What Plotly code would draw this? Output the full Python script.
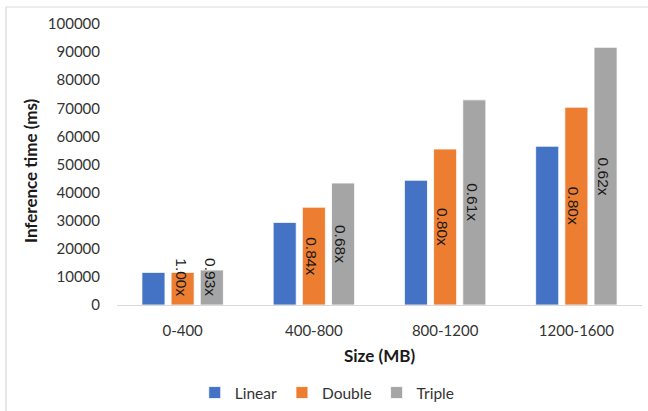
import plotly.graph_objects as go

# Inference time per model-size bucket (ms)
sizes = ["0-400", "400-800", "800-1200", "1200-1600"]
linear = [11600, 29400, 44400, 56500]
double = [11600, 34800, 55500, 70400]
triple = [12450, 43400, 73000, 91700]

# Speed-up ratios relative to Linear, printed on the Double and Triple bars
double_ratio = ["1.00x", "0.84x", "0.80x", "0.80x"]
triple_ratio = ["0.93x", "0.68x", "0.61x", "0.62x"]

y_ticks = list(range(0, 100001, 10000))

colors = {"Linear": "#4472C4", "Double": "#ED7D31", "Triple": "#A5A5A5"}

fig = go.Figure()
for name, vals in (("Linear", linear), ("Double", double), ("Triple", triple)):
    fig.add_trace(go.Bar(
        x=sizes, y=vals, name=name,
        marker=dict(color=colors[name], line=dict(color="white", width=0.8)),
    ))

# Layout geometry (pixels)
W, H = 648, 411
ML, MR, MT, MB = 117, 6, 24, 106
plot_w = W - ML - MR
ph = H - MT - MB
cat_w = plot_w / len(sizes)
bargap, bargroupgap = 0.333, 0.21
slot = cat_w * (1 - bargap) / 3

label_font = dict(family="Liberation Sans, Arial, sans-serif", size=15.5, color="#1a1a1a")
annotations = []
for offset, vals, labels in ((0, double, double_ratio), (1, triple, triple_ratio)):
    for cat, v, lab in zip(sizes, vals, labels):
        annotations.append(dict(
            x=cat, y=max(v / 2, 10000), xref="x", yref="y",
            text=lab, showarrow=False, textangle=90,
            xshift=offset * slot - 2, font=label_font,
        ))

tick_font = dict(family="Lato, Open Sans, sans-serif", size=15, color="#333333")
title_font = dict(family="Lato, Open Sans, sans-serif", size=17, color="#1a1a1a")

annotations.append(dict(
    x=(30 - ML) / plot_w, y=(305 - 171) / ph, xref="paper", yref="paper",
    xanchor="center", yanchor="middle",
    text="<b>Inference time (ms)</b>", textangle=-90, showarrow=False,
    font=title_font,
))
annotations.append(dict(
    x=0.5, y=(305 - 355) / ph, xref="paper", yref="paper",
    xanchor="center", yanchor="middle",
    text="<b>Size (MB)</b>", showarrow=False, font=title_font,
))

fig.update_layout(
    width=W, height=H,
    margin=dict(l=ML, r=MR, t=MT, b=MB),
    paper_bgcolor="white", plot_bgcolor="white",
    barmode="group", bargap=bargap, bargroupgap=bargroupgap,
    showlegend=True,
    legend=dict(
        orientation="h", xref="container", yref="container",
        x=0.505, y=1 - 393 / H, xanchor="center", yanchor="middle",
        font=dict(family="Lato, Open Sans, sans-serif", size=15.5, color="#333333"),
        itemwidth=30, traceorder="normal",
    ),
    annotations=annotations,
    shapes=[dict(
        type="rect", xref="paper", yref="paper",
        x0=(6 - ML) / plot_w, x1=(660 - ML) / plot_w,
        y0=(305 - 430) / ph, y1=(305 - 7) / ph,
        line=dict(color="#D9D9D9", width=1.2), layer="below",
    )],
)
fig.update_xaxes(
    showline=True, linecolor="#D9D9D9", linewidth=1.2,
    showgrid=False, ticks="", tickfont=tick_font, ticklabelstandoff=12,
)
fig.update_yaxes(
    range=[0, 100000], tickvals=y_ticks, ticktext=[str(t) for t in y_ticks],
    showline=False, showgrid=False, zeroline=False, ticks="",
    tickfont=tick_font, ticklabelstandoff=16,
)

fig.write_html("out.html")
